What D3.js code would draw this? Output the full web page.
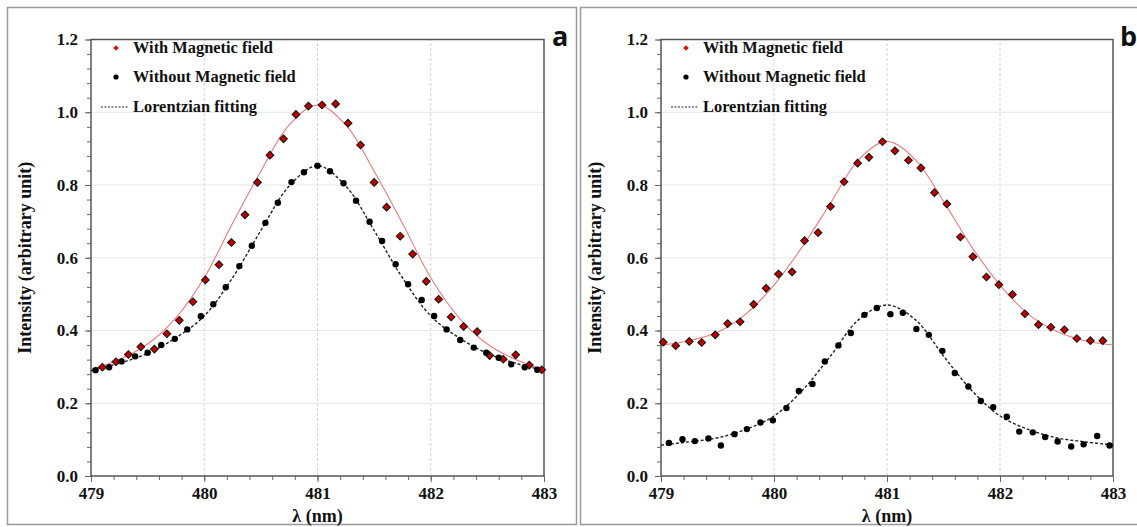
<!DOCTYPE html>
<html>
<head>
<meta charset="utf-8">
<script src="https://cdn.jsdelivr.net/npm/d3@7/dist/d3.min.js"></script>
<style>
  body { margin: 0; background: #fff; }
  svg { display: block; }
  svg text { font-family: "Liberation Serif", "Times New Roman", Times, serif; font-weight: bold; fill: #111; }
</style>
</head>
<body>
<div id="chart"></div>
<script>
// Axis ticks
const xTicks = [479, 480, 481, 482, 483];
const yTicks = [0, 0.2, 0.4, 0.6, 0.8, 1.0, 1.2];
const legendLabels = ["With Magnetic field", "Without Magnetic field", "Lorentzian fitting"];

// Panel a: with magnetic field (red diamonds)
const aWith = [[479.10,0.299],[479.22,0.314],[479.33,0.334],[479.44,0.355],[479.56,0.349],[479.67,0.391],
  [479.78,0.428],[479.90,0.479],[480.01,0.539],[480.13,0.581],[480.24,0.642],[480.36,0.718],[480.47,0.807],
  [480.58,0.882],[480.70,0.927],[480.81,0.994],[480.92,1.017],[481.04,1.020],[481.16,1.023],[481.27,0.970],
  [481.38,0.910],[481.50,0.807],[481.61,0.739],[481.73,0.659],[481.84,0.610],[481.96,0.535],[482.07,0.486],
  [482.18,0.437],[482.29,0.411],[482.41,0.397],[482.52,0.331],[482.64,0.321],[482.75,0.333],[482.87,0.305],
  [482.98,0.292]];
// Panel a: without magnetic field (black dots)
const aWithout = [[479.04,0.291],[479.16,0.299],[479.27,0.315],[479.39,0.329],[479.50,0.339],[479.62,0.360],
  [479.74,0.377],[479.85,0.403],[479.97,0.439],[480.08,0.472],[480.19,0.519],[480.31,0.577],[480.42,0.633],
  [480.54,0.696],[480.65,0.751],[480.77,0.808],[480.88,0.835],[481.00,0.853],[481.11,0.838],[481.23,0.805],
  [481.34,0.757],[481.46,0.699],[481.57,0.646],[481.69,0.582],[481.80,0.527],[481.92,0.484],[482.03,0.440],
  [482.14,0.403],[482.26,0.374],[482.38,0.353],[482.49,0.339],[482.60,0.325],[482.71,0.307],[482.83,0.299],
  [482.94,0.292]];
// Panel a: fitted curves
const aWithFit = [[479.00,0.292],[479.25,0.320],[479.50,0.363],[479.75,0.435],[480.00,0.545],[480.25,0.695],
  [480.50,0.838],[480.75,0.965],[481.00,1.020],[481.25,0.965],[481.50,0.838],[481.75,0.695],[482.00,0.545],
  [482.25,0.435],[482.50,0.363],[482.75,0.320],[483.00,0.292]];
const aWithoutFit = [[479.00,0.290],[479.25,0.310],[479.50,0.337],[479.75,0.380],[480.00,0.440],[480.25,0.545],
  [480.50,0.675],[480.75,0.797],[481.00,0.853],[481.25,0.797],[481.50,0.675],[481.75,0.545],[482.00,0.440],
  [482.25,0.380],[482.50,0.337],[482.75,0.310],[483.00,0.290]];

// Panel b
const bWith = [[479.02,0.368],[479.13,0.358],[479.25,0.370],[479.36,0.367],[479.48,0.388],[479.59,0.419],
  [479.70,0.424],[479.82,0.472],[479.93,0.516],[480.04,0.555],[480.16,0.561],[480.27,0.647],[480.39,0.669],
  [480.50,0.741],[480.62,0.809],[480.74,0.860],[480.84,0.876],[480.96,0.919],[481.07,0.894],[481.19,0.868],
  [481.30,0.847],[481.42,0.779],[481.53,0.748],[481.65,0.657],[481.76,0.603],[481.88,0.547],[481.99,0.526],
  [482.11,0.499],[482.22,0.446],[482.34,0.416],[482.45,0.409],[482.57,0.402],[482.68,0.378],[482.80,0.372],
  [482.91,0.372]];
const bWithout = [[479.07,0.091],[479.19,0.101],[479.30,0.096],[479.42,0.103],[479.53,0.084],[479.65,0.115],
  [479.76,0.129],[479.88,0.147],[479.99,0.153],[480.11,0.187],[480.22,0.234],[480.34,0.253],[480.45,0.315],
  [480.57,0.359],[480.68,0.393],[480.80,0.443],[480.91,0.462],[481.03,0.445],[481.14,0.449],[481.26,0.404],
  [481.37,0.388],[481.49,0.344],[481.60,0.283],[481.72,0.246],[481.83,0.206],[481.94,0.189],[482.06,0.163],
  [482.17,0.122],[482.29,0.120],[482.40,0.107],[482.51,0.095],[482.63,0.081],[482.74,0.087],[482.86,0.110],
  [482.97,0.084]];
const bWithFit = [[479.00,0.360],[479.25,0.372],[479.50,0.395],[479.75,0.445],[480.00,0.525],[480.25,0.630],
  [480.50,0.750],[480.75,0.870],[481.00,0.920],[481.25,0.870],[481.50,0.755],[481.75,0.630],[482.00,0.525],
  [482.25,0.445],[482.50,0.398],[482.75,0.372],[483.00,0.360]];
const bWithoutFit = [[479.00,0.085],[479.25,0.094],[479.50,0.105],[479.75,0.128],[480.00,0.165],[480.25,0.235],
  [480.50,0.330],[480.75,0.430],[481.00,0.470],[481.25,0.430],[481.50,0.330],[481.75,0.235],[482.00,0.165],
  [482.25,0.128],[482.50,0.105],[482.75,0.094],[483.00,0.085]];

const W = 1137, H = 527;
const serif = "'Liberation Serif', 'Times New Roman', Times, serif";
let svg = d3.select("#chart").append("svg").attr("width", W).attr("height", H);

// Outer panel frames
svg.append("rect").attr("x", 7.5).attr("y", 7.5).attr("width", 569).attr("height", 517)
  .attr("fill", "none").attr("stroke", "#9a9a9a").attr("stroke-width", 1.5);
svg.append("rect").attr("x", 580.5).attr("y", 7.5).attr("width", 570).attr("height", 517)
  .attr("fill", "none").attr("stroke", "#9a9a9a").attr("stroke-width", 1.5);

function drawPanel(opt) {
    let x = d3.scaleLinear().domain([479, 483]).range([opt.left, opt.right]);
    let y = d3.scaleLinear().domain([0, 1.2]).range([476, 39.5]);
    let g = svg.append("g");

    // grid
    g.selectAll(".vgrid").data(xTicks.slice(1, -1)).enter().append("line")
        .attr("x1", d => x(d)).attr("x2", d => x(d)).attr("y1", y(0)).attr("y2", y(1.2))
        .attr("stroke", "#d4d4d4").attr("stroke-dasharray", "3,2").attr("stroke-width", 1);
    g.selectAll(".hgrid").data(yTicks.slice(1, -1)).enter().append("line")
        .attr("x1", x(479)).attr("x2", x(483)).attr("y1", d => y(d)).attr("y2", d => y(d))
        .attr("stroke", "#e6e6e6").attr("stroke-width", 1);

    // minor ticks
    g.append("g").attr("transform", "translate(0," + y(0) + ")")
        .call(d3.axisBottom(x).tickValues(d3.range(0, 21).map(i => 479 + i * 0.2)).tickSize(4).tickFormat(""))
        .call(a => a.select(".domain").remove())
        .selectAll("line").attr("stroke", "#666");
    g.append("g").attr("transform", "translate(" + x(479) + ",0)")
        .call(d3.axisLeft(y).tickValues(d3.range(0, 31).map(i => i * 0.04)).tickSize(4).tickFormat(""))
        .call(a => a.select(".domain").remove())
        .selectAll("line").attr("stroke", "#666");

    // major axes
    let xa = g.append("g").attr("transform", "translate(0," + y(0) + ")")
        .call(d3.axisBottom(x).tickValues(xTicks).tickSize(6).tickPadding(5).tickFormat(d3.format("d")));
    xa.attr("font-family", serif).attr("font-size", 17);
    xa.select(".domain").remove();
    xa.selectAll("line").attr("stroke", "#666");
    xa.selectAll("text").attr("font-family", serif).attr("font-weight", "bold").attr("fill", "#111");

    let ya = g.append("g").attr("transform", "translate(" + x(479) + ",0)")
        .call(d3.axisLeft(y).tickValues(yTicks).tickSize(6).tickPadding(7).tickFormat(d3.format(".1f")));
    ya.attr("font-family", serif).attr("font-size", 17);
    ya.select(".domain").remove();
    ya.selectAll("line").attr("stroke", "#666");
    ya.selectAll("text").attr("font-family", serif).attr("font-weight", "bold").attr("fill", "#111");

    // plot frame
    g.append("rect").attr("x", x(479)).attr("y", y(1.2)).attr("width", x(483) - x(479)).attr("height", y(0) - y(1.2))
        .attr("fill", "none").attr("stroke", "#555").attr("stroke-width", 1.5);

    // axis titles
    g.append("text").attr("x", (x(479) + x(483)) / 2).attr("y", 522).attr("text-anchor", "middle")
        .attr("font-family", serif).attr("font-size", 18).text("λ (nm)");
    g.append("text").attr("transform", "translate(" + (opt.left - 60) + "," + y(0.6) + ") rotate(-90)")
        .attr("text-anchor", "middle").attr("font-family", serif).attr("font-size", 18).text("Intensity (arbitrary unit)");

    // panel letter
    g.append("text").attr("x", opt.letterX).attr("y", 46).attr("font-size", 27)
        .style("font-family", "'Open Sans', 'Liberation Sans', sans-serif").attr("fill", "#000").text(opt.letter);

    // fitted curves
    let line = d3.line().x(d => x(d[0])).y(d => y(d[1])).curve(d3.curveCatmullRom.alpha(0.5));
    g.append("path").datum(opt.withFit).attr("d", line)
        .attr("fill", "none").attr("stroke", "#f27a7a").attr("stroke-width", 1.1);
    g.append("path").datum(opt.withoutFit).attr("d", line)
        .attr("fill", "none").attr("stroke", "#222").attr("stroke-width", 1.4).attr("stroke-dasharray", "3,2");

    // points
    let diamond = d3.symbol().type(d3.symbolSquare).size(30);
    g.selectAll(".pw").data(opt.withPts).enter().append("path")
        .attr("d", diamond)
        .attr("transform", d => "translate(" + x(d[0]) + "," + y(d[1]) + ") rotate(45)")
        .attr("fill", "#c00000").attr("stroke", "#111").attr("stroke-width", 1);
    g.selectAll(".pwo").data(opt.withoutPts).enter().append("circle")
        .attr("cx", d => x(d[0])).attr("cy", d => y(d[1])).attr("r", 3.2).attr("fill", "#000");

    // legend
    let lx = opt.left + 25, tx = opt.left + 42;
    g.append("path").attr("d", d3.symbol().type(d3.symbolSquare).size(16))
        .attr("transform", "translate(" + lx + ",48) rotate(45)").attr("fill", "#d11");
    g.append("circle").attr("cx", lx).attr("cy", 77).attr("r", 2.6).attr("fill", "#000");
    g.append("line").attr("x1", opt.left + 10).attr("x2", opt.left + 38).attr("y1", 107).attr("y2", 107)
        .attr("stroke", "#222").attr("stroke-width", 1).attr("stroke-dasharray", "2,1.5");
    [53, 82, 112].forEach((yy, i) => {
        g.append("text").attr("x", tx).attr("y", yy).attr("font-family", serif).attr("font-size", 16.4)
            .text(legendLabels[i]);
    });
}

drawPanel({left: 91, right: 544, letter: "a", letterX: 552,
    withPts: aWith, withoutPts: aWithout, withFit: aWithFit, withoutFit: aWithoutFit});
drawPanel({left: 661, right: 1113, letter: "b", letterX: 1120,
    withPts: bWith, withoutPts: bWithout, withFit: bWithFit, withoutFit: bWithoutFit});
</script>
</body>
</html>
